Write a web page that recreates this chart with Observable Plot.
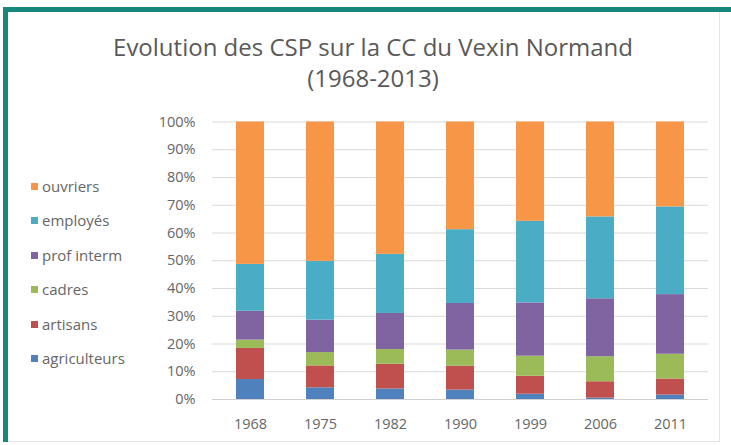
<!DOCTYPE html>
<html><head><meta charset="utf-8">
<script src="https://cdn.jsdelivr.net/npm/d3@7"></script>
<script src="https://cdn.jsdelivr.net/npm/@observablehq/plot@0.6"></script>
<style>
html,body{margin:0;padding:0;background:#fff;}
#wrap{position:relative;width:731px;height:445px;overflow:hidden;font-family:"Open Sans",Lato,sans-serif;}
#frame{position:absolute;left:3px;top:7px;width:740px;height:435px;border-top:5px solid #17877c;border-left:5px solid #17877c;box-sizing:border-box;}
#inner{position:absolute;left:8px;top:12px;width:712px;height:430px;border-right:1px solid #e4e4e4;border-bottom:1px solid #e4e4e4;box-sizing:border-box;}
#title{position:absolute;left:0;width:746px;top:31px;text-align:center;color:#595959;font-size:24px;line-height:31px;}
#legend{position:absolute;left:31px;top:176px;color:#666;font-size:15px;}
#legend div{height:34.4px;display:flex;align-items:flex-start;line-height:20px;}
#legend span.sw{display:inline-block;width:7px;height:7px;margin:7px 4px 0 0;}
#chart{position:absolute;left:0;top:0;}
</style></head>
<body>
<div id="wrap">
  <div id="frame"></div>
  <div id="inner"></div>
  <div id="chart"></div>
  <div id="title">Evolution des CSP sur la CC du Vexin Normand<br>(1968-2013)</div>
  <div id="legend"></div>
</div>
<script>
const years = ["1968","1975","1982","1990","1999","2006","2011"];
const categories = ["agriculteurs","artisans","cadres","prof interm","employés","ouvriers"];
const colors = ["#4F81BD","#C0504D","#9BBB59","#8064A2","#4BACC6","#F79646"];
const agriculteurs = [7.2,4.2,3.8,3.4,1.9,0.5,1.6];
const artisans     = [11.2,7.9,8.9,8.6,6.5,5.9,5.8];
const cadres       = [3.0,4.8,5.3,5.8,7.2,9.0,8.9];
const profInterm   = [10.4,11.7,13.0,16.8,19.2,20.9,21.5];
const employes     = [16.9,21.2,21.3,26.6,29.4,29.5,31.6];
const ouvriers     = [51.3,50.2,47.7,38.8,35.8,34.2,30.6];
const yTicks = [0,10,20,30,40,50,60,70,80,90,100];

const series = [agriculteurs, artisans, cadres, profInterm, employes, ouvriers];
const data = [];
years.forEach((yr, i) => categories.forEach((c, j) => data.push({year: yr, cat: c, value: series[j][i]})));

const plot = Plot.plot({
  width: 731, height: 445,
  marginTop: 121.5, marginBottom: 46, marginLeft: 212, marginRight: 23,
  style: {fontFamily: '"Open Sans", Lato, sans-serif', fontSize: "14.5px", color: "#666", background: "transparent"},
  x: {domain: years, paddingInner: 0.6, paddingOuter: 0.3, label: null, tickSize: 0, tickPadding: 19},
  y: {domain: [0, 100], ticks: yTicks, tickFormat: d => d + "%", label: null, tickSize: 0, tickPadding: 17},
  color: {domain: categories, range: colors},
  marks: [
    Plot.gridY(yTicks, {stroke: "#d9d9d9", strokeOpacity: 1}),
    Plot.barY(data, {x: "year", y: "value", fill: "cat", order: categories}),
    Plot.ruleY([0], {stroke: "#d0d0d0"})
  ]
});
document.getElementById("chart").appendChild(plot);

const leg = document.getElementById("legend");
[...categories].reverse().forEach(c => {
  const d = document.createElement("div");
  const s = document.createElement("span");
  s.className = "sw"; s.style.background = colors[categories.indexOf(c)];
  d.appendChild(s);
  d.appendChild(document.createTextNode(c));
  leg.appendChild(d);
});
</script>
</body></html>
